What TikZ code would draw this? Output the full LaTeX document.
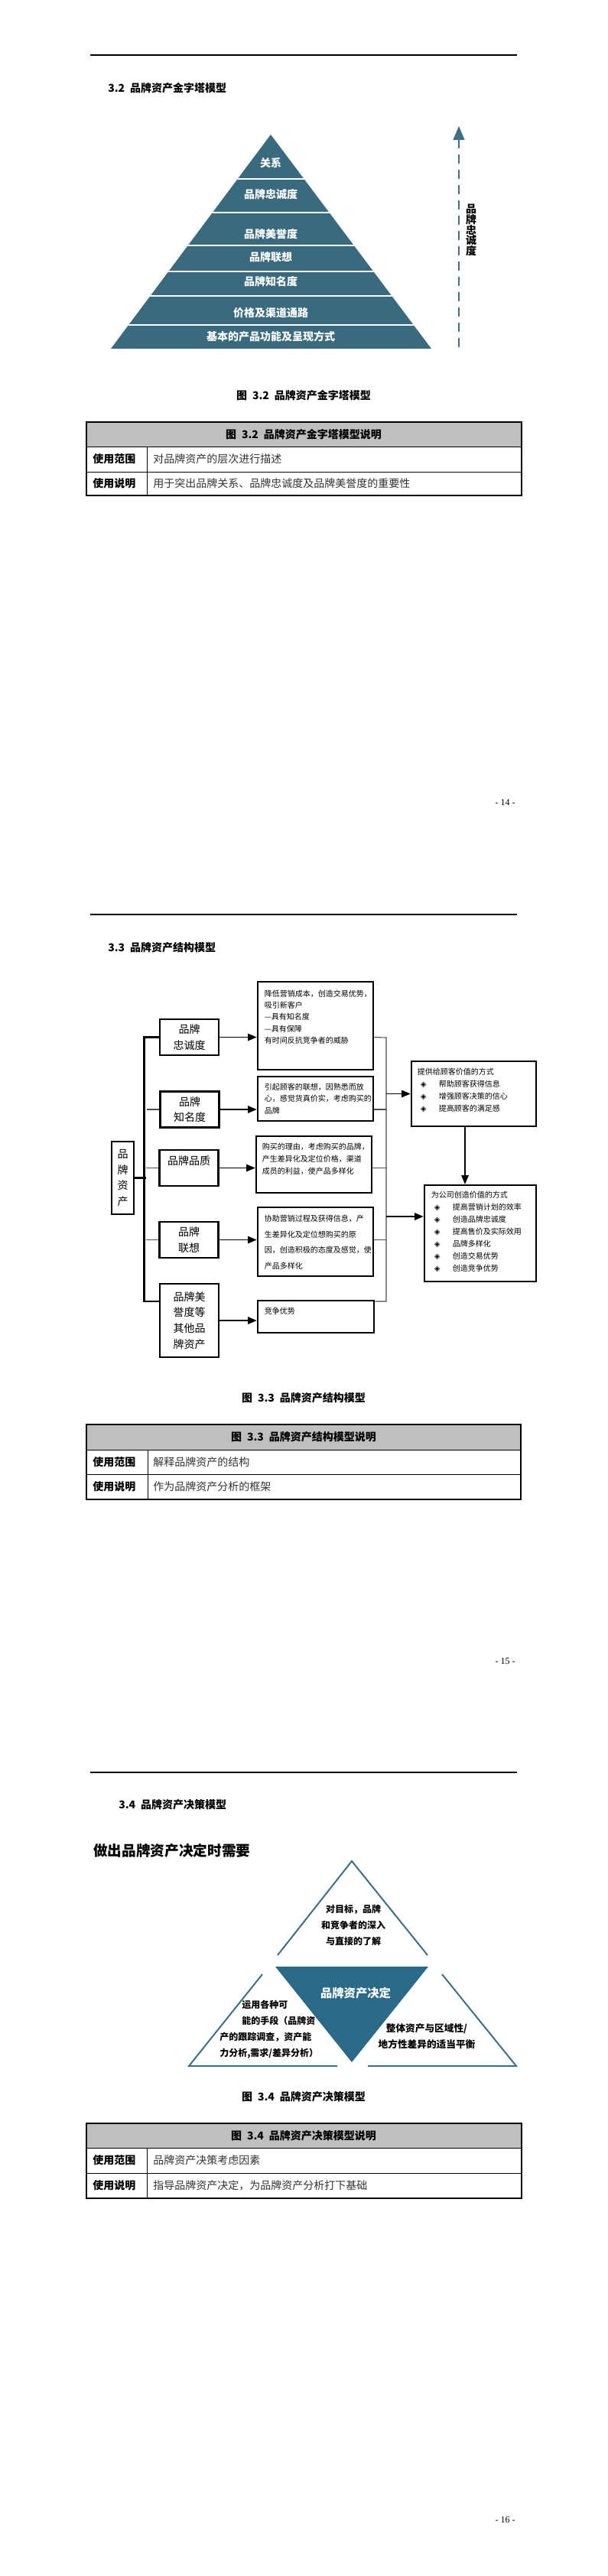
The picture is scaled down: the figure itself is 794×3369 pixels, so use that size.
\documentclass[tikz,border=0pt]{standalone}
\usepackage{fontspec}
\setmainfont{Noto Sans CJK SC}
\newfontfamily\symfont{DejaVu Sans}
\newfontfamily\pagefont{Liberation Serif}
\usepackage{tikz}
\usetikzlibrary{shapes}
\usetikzlibrary{arrows}

\definecolor{pyrteal}{HTML}{3A6A7D}
\definecolor{dashteal}{HTML}{3F6F80}
\definecolor{decblue}{HTML}{2A6A88}
\definecolor{triline}{HTML}{3C7089}
\definecolor{headgray}{HTML}{BFBFBF}

\tikzset{
  hrule/.style={line width=0.8pt},
  headline/.style={anchor=west, inner sep=0, font=\fontsize{10.5}{12}\selectfont\bfseries},
  figcap/.style={inner sep=0, font=\fontsize{10.5}{12}\selectfont\bfseries},
  pagenum/.style={anchor=east, inner sep=0, font=\pagefont\fontsize{9}{10}\selectfont},
  pyr/.style={inner sep=0, text=white, font=\fontsize{10.5}{12}\selectfont\bfseries},
  tkey/.style={anchor=west, inner sep=0, font=\fontsize{10.5}{12}\selectfont\bfseries},
  tval/.style={anchor=west, inner sep=0, text=black!80, font=\fontsize{10.5}{12}\selectfont},
  sidebox/.style={draw, line width=2pt, inner sep=0, minimum width=57.75pt,
    minimum height=35.25pt, align=center, font=\fontsize{10.5}{15.5}\selectfont},
  infobox/.style={draw, line width=2pt, inner sep=0, minimum width=113.25pt},
  boxtext/.style={anchor=north west, inner sep=0, align=left},
  arr/.style={-triangle 45, line width=1pt},
  brk/.style={line width=2pt},
  link/.style={line width=0.8pt, black!70},
  tri/.style={line width=1.5pt, draw=triline},
  tritext/.style={inner sep=0, font=\fontsize{9}{15.75}\selectfont\bfseries}
}

\newcommand{\bul}{\hspace*{3pt}\makebox[18pt][l]{\symfont ◈}}

\begin{document}
\begin{tikzpicture}[x=0.75pt, y=-0.75pt]
\useasboundingbox (0,0) rectangle (794,3369);
\fill[white] (0,0) rectangle (794,3369);

% ---------------- page 14 ----------------
\draw[hrule] (118,72) -- (676,72);
\node[headline] (H1) at (141,115) {3.2\enspace 品牌资产金字塔模型};

% pyramid
\fill[pyrteal] (354,176) -- (564,456) -- (145,456) -- cycle;
\begin{scope}
\clip (354,176) -- (564,456) -- (145,456) -- cycle;
\draw[white, line width=1.2pt] (100,234) -- (600,234) (100,278) -- (600,278)
  (100,321) -- (600,321) (100,355) -- (600,355)
  (100,387) -- (600,387) (100,425) -- (600,425);
\end{scope}
\node[pyr] (P1) at (354,213) {关系};
\node[pyr] (P2) at (354,254) {品牌忠诚度};
\node[pyr] (P3) at (354,306) {品牌美誉度};
\node[pyr] (P4) at (354,336) {品牌联想};
\node[pyr] (P5) at (354,368) {品牌知名度};
\node[pyr] (P6) at (354,409) {价格及渠道通路};
\node[pyr] (P7) at (354,440) {基本的产品功能及呈现方式};

\coordinate (LB) at (600,454);
\coordinate (LT) at (600,165);
\draw[dashteal, line width=2.2pt, dash pattern=on 9pt off 6pt, -triangle 45] (LB) -- (LT);
\node[inner sep=0, align=center, font=\fontsize{10.5}{10.4}\selectfont\bfseries] (LV)
  at (616,301) {品\\牌\\忠\\诚\\度};

\node[figcap] (C1) at (397,517) {图\enspace 3.2\enspace 品牌资产金字塔模型};

% table
\fill[headgray] (113,552) rectangle (682,584);
\draw[line width=0.75pt] (113,584) -- (682,584) (113,617) -- (682,617) (192,584) -- (192,648);
\draw[line width=1.5pt] (113,552) rectangle (682,648);
\node[figcap] (T1) at (397,568) {图\enspace 3.2\enspace 品牌资产金字塔模型说明};
\node[tkey] (T1a) at (121,600.5) {使用范围};
\node[tval] (T1b) at (200,600.5) {对品牌资产的层次进行描述};
\node[tkey] (T1c) at (121,632.5) {使用说明};
\node[tval] (T1d) at (200,632.5) {用于突出品牌关系、品牌忠诚度及品牌美誉度的重要性};

\node[pagenum] (N1) at (674,1050) {- 14 -};

% ---------------- page 15 ----------------
\draw[hrule] (118,1196) -- (676,1196);
\node[headline] (H2) at (141,1239) {3.3\enspace 品牌资产结构模型};

\node[sidebox, minimum width=21.75pt, minimum height=71.25pt] (L) at (160.5,1540.5) {品\\牌\\资\\产};
\node[sidebox] (A) at (247.5,1356.5) {品牌\\忠诚度};
\node[sidebox] (B) at (248,1451) {品牌\\知名度};
\node[sidebox] (C) at (247,1527.5) {品牌品质\\\mbox{}};
\node[sidebox] (D) at (247,1621.5) {品牌\\联想};
\node[sidebox, minimum height=72pt] (E) at (247.5,1727) {品牌美\\誉度等\\其他品\\牌资产};

\node[infobox, minimum height=86.25pt] (A1) at (412.5,1341.5) {};
\node[infobox, minimum height=43.5pt] (B1) at (412.5,1437) {};
\node[infobox, minimum height=55.5pt] (C1) at (410.5,1523) {};
\node[infobox, minimum height=67.5pt] (D1) at (412.5,1624) {};
\node[infobox, minimum width=114pt, minimum height=31.5pt] (E1) at (413,1722) {};
\node[infobox, minimum width=122.25pt, minimum height=63.75pt] (V) at (619.5,1430.5) {};
\node[infobox, minimum width=109.5pt, minimum height=94.5pt] (W) at (628,1613) {};

\node[boxtext, font=\fontsize{7.5}{11.4}\selectfont] (A1t) at ([shift={(10,12)}]A1.north west)
  {降低营销成本，创造交易优势，\\吸引新客户\\—具有知名度\\—具有保障\\有时间反抗竞争者的威胁};
\node[boxtext, font=\fontsize{7.5}{11.6}\selectfont] (B1t) at ([shift={(10,10)}]B1.north west)
  {引起顾客的联想，因熟悉而放\\心，感觉货真价实，考虑购买的\\品牌};
\node[boxtext, font=\fontsize{7.5}{12}\selectfont] (C1t) at ([shift={(9,10)}]C1.north west)
  {购买的理由，考虑购买的品牌，\\产生差异化及定位价格，渠道\\成员的利益，使产品多样化};
\node[boxtext, font=\fontsize{7.5}{15.5}\selectfont] (D1t) at ([shift={(10,11)}]D1.north west)
  {协助营销过程及获得信息，产\\生差异化及定位想购买的原\\因，创造积极的态度及感觉，使\\产品多样化};
\node[boxtext, font=\fontsize{7.5}{12}\selectfont] (E1t) at ([shift={(10,10)}]E1.north west) {竞争优势};
\node[boxtext, font=\fontsize{7.5}{12}\selectfont] (Vt) at ([shift={(9,10)}]V.north west)
  {提供给顾客价值的方式\\\bul 帮助顾客获得信息\\\bul 增强顾客决策的信心\\\bul 提高顾客的满足感};
\node[boxtext, font=\fontsize{7.5}{12}\selectfont] (Wt) at ([shift={(10,9)}]W.north west)
  {为公司创造价值的方式\\\bul 提高营销计划的效率\\\bul 创造品牌忠诚度\\\bul 提高售价及实际效用\\
   \bul 品牌多样化\\\bul 创造交易优势\\\bul 创造竞争优势};

% bracket
\draw[brk] (A.west) -- ++(-19,0) |- ([yshift=18.75pt]E.west);
\draw[brk] (L.east) -- ++(15,0);
\draw[link] (B.west) -- ++(-16,0);
\draw[link] (C.west) -- ++(-16,0);
\draw[link] (D.west) -- ++(-16,0);

\draw[arr] (A.east) -- (A.east -| A1.west);
\draw[arr] (B.east) -- (B.east -| B1.west);
\draw[arr] (C.east) -- (C.east -| C1.west);
\draw[arr] (D.east) -- (D.east -| D1.west);
\draw[arr] (E.east) -- (E.east -| E1.west);

\coordinate (RT) at (505,1357);
\coordinate (RB) at (505,1702);
\draw[link] (A1.east |- A.east) -- (RT) -- (RB) -- (E1.east |- RB);
\draw[link] (B1.east |- B.east) -- (RT |- B.east);
\draw[link] (C1.east |- C.east) -- (RT |- C.east);
\draw[link] (D1.east |- D.east) -- (RT |- D.east);

\draw[arr] (RT |- V.west) -- (V.west);
\coordinate (Win) at ([yshift=16.5pt]W.west);
\draw[arr] (RT |- Win) -- (Win);
\coordinate (VS) at ([xshift=-8.6pt]V.south);
\draw[arr] (VS) -- (VS |- W.north);

\node[figcap] (C2) at (397,1828) {图\enspace 3.3\enspace 品牌资产结构模型};

% table
\fill[headgray] (113,1863) rectangle (681,1896);
\draw[line width=0.75pt] (113,1896) -- (681,1896) (113,1928) -- (681,1928) (193,1896) -- (193,1961);
\draw[line width=1.5pt] (113,1863) rectangle (681,1961);
\node[figcap] (T2) at (397,1879.5) {图\enspace 3.3\enspace 品牌资产结构模型说明};
\node[tkey] (T2a) at (121,1912) {使用范围};
\node[tval] (T2b) at (200,1912) {解释品牌资产的结构};
\node[tkey] (T2c) at (121,1944.5) {使用说明};
\node[tval] (T2d) at (200,1944.5) {作为品牌资产分析的框架};

\node[pagenum] (N2) at (674,2173) {- 15 -};

% ---------------- page 16 ----------------
\draw[hrule] (118,2318) -- (676,2318);
\node[headline] (H3) at (155,2360) {3.4\enspace 品牌资产决策模型};
\node[headline, font=\fontsize{14}{16}\selectfont\bfseries] (Q) at (122,2420) {做出品牌资产决定时需要};

\draw[tri] (363,2557) -- (460,2434) -- (559,2557);
\fill[decblue] (360,2572) -- (560,2572) -- (460,2697) -- cycle;
\draw[tri] (343,2582) -- (247,2702) -- (441,2702);
\draw[tri] (578,2582) -- (675,2702) -- (481,2702);

\node[tritext, align=center] (K1) at (462,2518) {对目标，品牌\\和竞争者的深入\\与直接的了解};
\node[inner sep=0, text=white, font=\fontsize{11.5}{13}\selectfont\bfseries] (K0) at (465,2607) {品牌资产决定};
\node[tritext, anchor=north west, align=left] (K2) at (287,2616)
  {\hspace*{21.75pt}运用各种可\\\hspace*{21.75pt}能的手段（品牌资\\产的跟踪调查，资产能\\力分析,需求/差异分析）};
\node[tritext, align=center, font=\fontsize{9.5}{15.75}\selectfont\bfseries] (K3) at (558,2663.5)
  {整体资产与区域性/\\地方性差异的适当平衡};

\node[figcap] (C3) at (397,2742) {图\enspace 3.4\enspace 品牌资产决策模型};

% table
\fill[headgray] (113,2777) rectangle (682,2809);
\draw[line width=0.75pt] (113,2809) -- (682,2809) (113,2842) -- (682,2842) (192,2809) -- (192,2875);
\draw[line width=1.5pt] (113,2777) rectangle (682,2875);
\node[figcap] (T3) at (397,2793) {图\enspace 3.4\enspace 品牌资产决策模型说明};
\node[tkey] (T3a) at (121,2825.5) {使用范围};
\node[tval] (T3b) at (200,2825.5) {品牌资产决策考虑因素};
\node[tkey] (T3c) at (121,2858.5) {使用说明};
\node[tval] (T3d) at (200,2858.5) {指导品牌资产决定，为品牌资产分析打下基础};

\node[pagenum] (N3) at (674,3296) {- 16 -};
\end{tikzpicture}
\end{document}
